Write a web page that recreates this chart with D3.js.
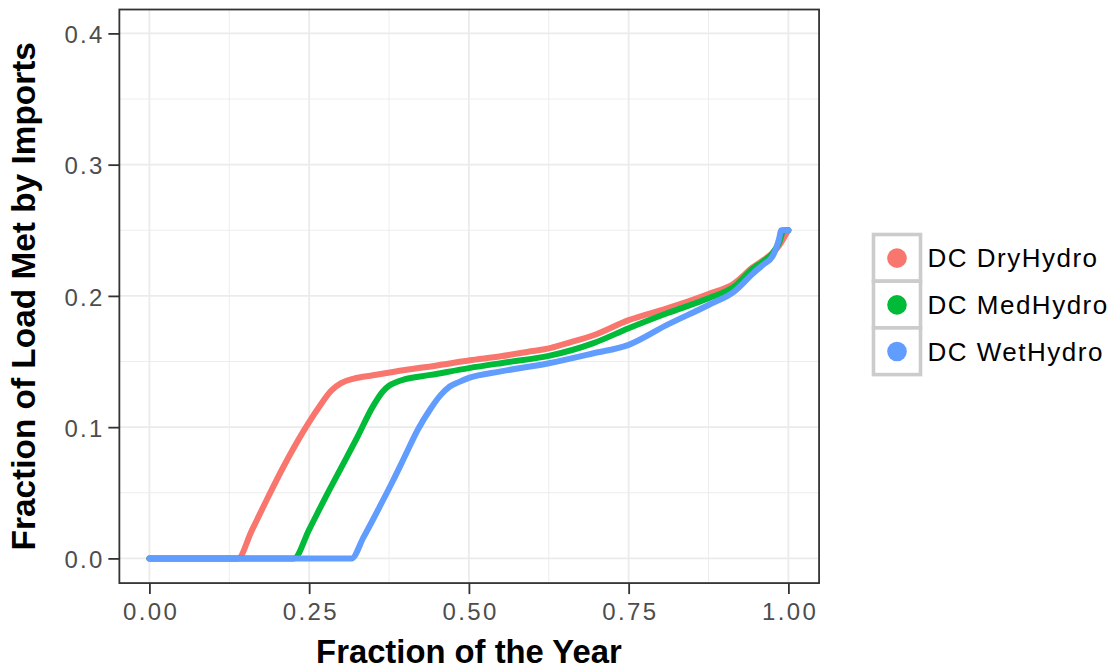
<!DOCTYPE html>
<html>
<head>
<meta charset="utf-8">
<script src="https://cdn.jsdelivr.net/npm/d3@7"></script>
<style>
  html, body { margin: 0; padding: 0; background: #fff; }
  svg { display: block; }
</style>
</head>
<body>
<svg id="chart" width="1113" height="671"></svg>
<script>
// Fraction of the year (x) vs. fraction of load met by imports (y), per hydro scenario
const seriesNames = ["DC DryHydro", "DC MedHydro", "DC WetHydro"];
const seriesColors = ["#F8766D", "#00BA38", "#619CFF"];

const dryX = [0, 0.1385, 0.16, 0.185, 0.21, 0.24, 0.265, 0.285, 0.30, 0.32, 0.35, 0.40, 0.45, 0.50, 0.55, 0.60, 0.625, 0.65, 0.695, 0.75, 0.81, 0.875, 0.915, 0.945, 0.96, 0.975, 0.985, 0.995, 1.0];
const dryY = [0, 0, 0.021, 0.046, 0.070, 0.096, 0.115, 0.128, 0.1335, 0.137, 0.1395, 0.1435, 0.147, 0.1508, 0.154, 0.158, 0.160, 0.1635, 0.170, 0.1815, 0.1905, 0.2015, 0.2095, 0.222, 0.227, 0.2325, 0.238, 0.246, 0.25];

const medX = [0, 0.226, 0.25, 0.275, 0.30, 0.325, 0.35, 0.365, 0.375, 0.385, 0.40, 0.44, 0.50, 0.56, 0.625, 0.695, 0.75, 0.81, 0.875, 0.915, 0.945, 0.96, 0.975, 0.985, 0.993, 1.0];
const medY = [0, 0, 0.022, 0.046, 0.069, 0.092, 0.116, 0.127, 0.1315, 0.134, 0.1365, 0.1398, 0.1450, 0.1495, 0.1543, 0.164, 0.1754, 0.1868, 0.1982, 0.207, 0.221, 0.226, 0.2325, 0.240, 0.25, 0.25];

const wetX = [0, 0.3164, 0.335, 0.36, 0.38, 0.40, 0.42, 0.44, 0.455, 0.47, 0.485, 0.50, 0.55, 0.625, 0.695, 0.75, 0.81, 0.875, 0.915, 0.945, 0.96, 0.975, 0.985, 0.989, 1.0];
const wetY = [0, 0, 0.016, 0.039, 0.058, 0.078, 0.098, 0.114, 0.124, 0.131, 0.1345, 0.1375, 0.1425, 0.1487, 0.1563, 0.1627, 0.1779, 0.1931, 0.2033, 0.2173, 0.2236, 0.230, 0.2427, 0.25, 0.25];

const xTicks = [0, 0.25, 0.5, 0.75, 1.0];
const xTickLabels = ["0.00", "0.25", "0.50", "0.75", "1.00"];
const xMinor = [0.125, 0.375, 0.625, 0.875];
const yTicks = [0, 0.1, 0.2, 0.3, 0.4];
const yTickLabels = ["0.0", "0.1", "0.2", "0.3", "0.4"];
const yMinor = [0.05, 0.15, 0.25, 0.35];

const xTitle = "Fraction of the Year";
const yTitle = "Fraction of Load Met by Imports";

const series = [
  { name: seriesNames[0], color: seriesColors[0], pts: dryX.map((x, i) => [x, dryY[i]]) },
  { name: seriesNames[1], color: seriesColors[1], pts: medX.map((x, i) => [x, medY[i]]) },
  { name: seriesNames[2], color: seriesColors[2], pts: wetX.map((x, i) => [x, wetY[i]]) }
];

const svg = d3.select("#chart");

// Scales: tick positions set the mapping; panel extends a little past the data range
const x = d3.scaleLinear().domain([0, 1]).range([149.4, 788.4]);
const y = d3.scaleLinear().domain([0, 0.4]).range([558.4, 33.4]);
const xPanel = [-0.047, 1.048];
const yPanel = [-0.0188, 0.4182];

const px0 = x(xPanel[0]), px1 = x(xPanel[1]);
const py0 = y(yPanel[1]), py1 = y(yPanel[0]);

svg.append("rect").attr("width", 1113).attr("height", 671).attr("fill", "#fff");

const grid = svg.append("g");
const gridColor = "#ebebeb";
// minor grid
grid.selectAll(".xmin").data(xMinor).join("line")
  .attr("x1", d => x(d)).attr("x2", d => x(d)).attr("y1", py0).attr("y2", py1)
  .attr("stroke", gridColor).attr("stroke-width", 0.9);
grid.selectAll(".ymin").data(yMinor).join("line")
  .attr("x1", px0).attr("x2", px1).attr("y1", d => y(d)).attr("y2", d => y(d))
  .attr("stroke", gridColor).attr("stroke-width", 0.9);
// major grid
grid.selectAll(".xmaj").data(xTicks).join("line")
  .attr("x1", d => x(d)).attr("x2", d => x(d)).attr("y1", py0).attr("y2", py1)
  .attr("stroke", gridColor).attr("stroke-width", 1.8);
grid.selectAll(".ymaj").data(yTicks).join("line")
  .attr("x1", px0).attr("x2", px1).attr("y1", d => y(d)).attr("y2", d => y(d))
  .attr("stroke", gridColor).attr("stroke-width", 1.8);

// curves
const line = d3.line().x(d => x(d[0])).y(d => y(d[1])).curve(d3.curveMonotoneX);
svg.append("g").selectAll("path").data(series).join("path")
  .attr("d", d => line(d.pts))
  .attr("fill", "none")
  .attr("stroke", d => d.color)
  .attr("stroke-width", 6)
  .attr("stroke-linejoin", "round")
  .attr("stroke-linecap", "round");

// panel border
svg.append("rect")
  .attr("x", px0).attr("y", py0)
  .attr("width", px1 - px0).attr("height", py1 - py0)
  .attr("fill", "none").attr("stroke", "#333333").attr("stroke-width", 1.8);

// axes
const tickFont = "'Liberation Sans', Arial, sans-serif";
const xAxis = d3.axisBottom(x).tickValues(xTicks).tickFormat((d, i) => xTickLabels[i])
  .tickSize(11).tickPadding(9);
const gx = svg.append("g").attr("transform", `translate(0,${py1})`).call(xAxis);
gx.select(".domain").remove();
gx.selectAll(".tick line").attr("stroke", "#333333").attr("stroke-width", 1.8);
gx.selectAll(".tick text")
  .attr("fill", "#4d4d4d")
  .style("font-family", tickFont).style("font-size", "24px")
  .style("letter-spacing", "2.4px")
  .attr("dx", "1.2px");

const yAxis = d3.axisLeft(y).tickValues(yTicks).tickFormat((d, i) => yTickLabels[i])
  .tickSize(11).tickPadding(6);
const gy = svg.append("g").attr("transform", `translate(${px0},0)`).call(yAxis);
gy.select(".domain").remove();
gy.selectAll(".tick line").attr("stroke", "#333333").attr("stroke-width", 1.8);
gy.selectAll(".tick text")
  .attr("fill", "#4d4d4d")
  .style("font-family", tickFont).style("font-size", "24px")
  .style("letter-spacing", "2.3px")
  .attr("dx", "2.3px").attr("dy", "0.38em");

// axis titles
svg.append("text")
  .attr("x", x(0.5)).attr("y", 663)
  .attr("text-anchor", "middle")
  .style("font-family", tickFont).style("font-weight", "bold").style("font-size", "32.8px")
  .attr("fill", "#000")
  .text(xTitle);

svg.append("text")
  .attr("transform", `translate(35,${(py0 + py1) / 2}) rotate(-90)`)
  .attr("text-anchor", "middle")
  .style("font-family", tickFont).style("font-weight", "bold").style("font-size", "33.4px")
  .attr("fill", "#000")
  .text(yTitle);

// legend
const legend = svg.append("g").attr("transform", "translate(873.5,234.5)");
const keyH = 46.7, keyW = 47;
const keys = legend.selectAll("g").data(series).join("g")
  .attr("transform", (d, i) => `translate(0,${i * keyH})`);
keys.append("rect")
  .attr("width", keyW).attr("height", keyH)
  .attr("fill", "#fff").attr("stroke", "#cccccc").attr("stroke-width", 3.6);
keys.append("circle")
  .attr("cx", keyW / 2).attr("cy", keyH / 2 + 0.3).attr("r", 9.8)
  .attr("fill", d => d.color);
keys.append("text")
  .attr("x", keyW + 7).attr("y", keyH / 2 + 9.6)
  .style("font-family", tickFont).style("font-size", "26px")
  .style("letter-spacing", "1.5px")
  .attr("fill", "#000")
  .text(d => d.name);
</script>
</body>
</html>
